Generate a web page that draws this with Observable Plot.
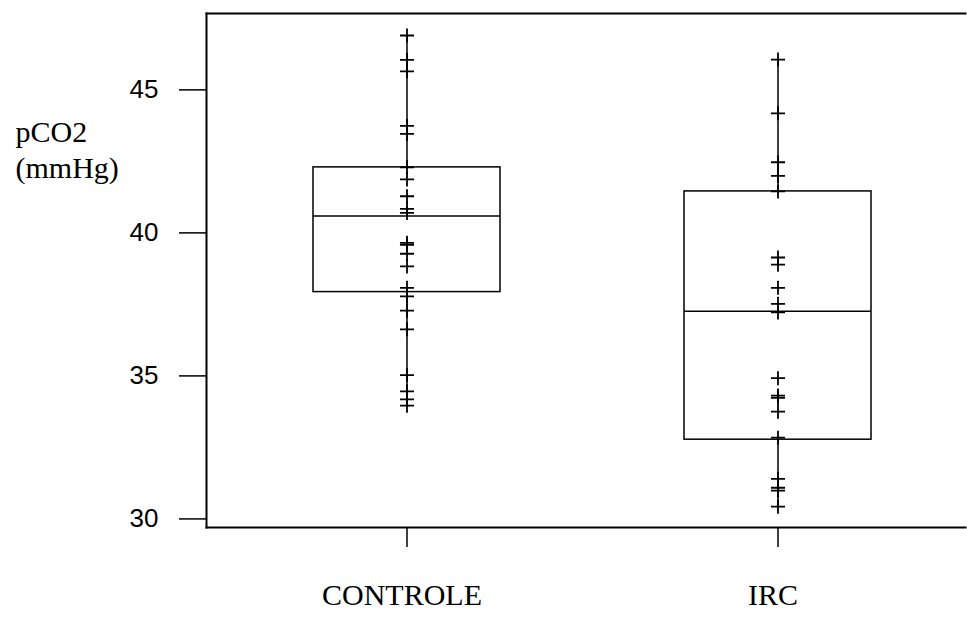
<!DOCTYPE html>
<html>
<head>
<meta charset="utf-8">
<script src="https://cdn.jsdelivr.net/npm/d3@7"></script>
<script src="https://cdn.jsdelivr.net/npm/@observablehq/plot@0.6"></script>
<style>
  html, body { margin: 0; padding: 0; background: #fff; overflow: hidden; }
</style>
</head>
<body>
<div id="chart"></div>
<script>
// Groups and individual pCO2 readings (mmHg)
const groups = ["CONTROLE", "IRC"];
const controleValues = [46.90, 46.05, 45.65, 43.74, 43.46, 42.29, 41.87, 41.28, 40.84, 40.70,
  39.65, 39.58, 39.27, 38.83, 38.08, 37.78, 37.28, 36.63, 35.03, 34.46, 34.18, 33.96];
const ircValues = [46.06, 44.18, 42.47, 41.99, 41.45, 39.14, 38.89, 38.08, 37.52, 37.22,
  34.92, 34.31, 34.23, 33.75, 32.84, 31.40, 31.09, 30.99, 30.43];

// Box statistics per group
const boxQ1 = [37.93, 32.77];
const boxMedian = [40.59, 37.26];
const boxQ3 = [42.29, 41.45];

const yTicks = [30, 35, 40, 45];
const yLabel = "pCO2\n(mmHg)";

const seriesByGroup = [controleValues, ircValues];
const points = groups.flatMap((g, i) => seriesByGroup[i].map(v => ({group: g, value: v})));
const boxes = groups.map((g, i) => ({
  group: g,
  q1: boxQ1[i],
  median: boxMedian[i],
  q3: boxQ3[i],
  min: d3.min(seriesByGroup[i]),
  max: d3.max(seriesByGroup[i])
}));

const serif = "'Liberation Serif', 'Times New Roman', serif";
const sans = "'Liberation Sans', Arial, sans-serif";

const chart = Plot.plot({
  width: 967,
  height: 633,
  marginLeft: 206,
  marginRight: 2,
  marginTop: 13,
  marginBottom: 106,
  style: {background: "#fff", color: "#000"},
  x: {type: "band", domain: groups, range: [126.5, 1057.5], paddingInner: 0.497, paddingOuter: 0.5},
  y: {domain: [29.70, 47.67]},
  marks: [
    Plot.frame({anchor: "left", stroke: "#000", strokeWidth: 2}),
    Plot.frame({anchor: "top", stroke: "#000", strokeWidth: 2}),
    Plot.frame({anchor: "bottom", stroke: "#000", strokeWidth: 2}),
    Plot.axisY(yTicks, {
      tickSize: 27, tickPadding: 21, fontSize: 26, fontFamily: sans,
      label: null, strokeWidth: 1.5
    }),
    // category ticks below the frame
    Plot.axisX({tickSize: 20, tickFormat: () => "", label: null, strokeWidth: 1.5}),
    // category names, set slightly left of their ticks
    Plot.axisX({
      tickSize: 0, tickPadding: 56, dx: -5, fontSize: 30, fontFamily: serif, label: null
    }),
    // whiskers outside the box
    Plot.ruleX(boxes, {x: "group", y1: "q3", y2: "max", stroke: "#000", strokeWidth: 1.5}),
    Plot.ruleX(boxes, {x: "group", y1: "min", y2: "q1", stroke: "#000", strokeWidth: 1.5}),
    // interquartile box and median
    Plot.barY(boxes, {x: "group", y1: "q1", y2: "q3", fill: "none", stroke: "#000", strokeWidth: 1.5}),
    Plot.tickY(boxes, {x: "group", y: "median", stroke: "#000", strokeWidth: 1.5}),
    // individual readings
    Plot.dot(points, {x: "group", y: "value", symbol: "plus", r: 4.6, stroke: "#000", strokeWidth: 1.8}),
    // y axis title
    Plot.text([yLabel], {
      frameAnchor: "top-left", dx: -191, dy: 135,
      textAnchor: "start", lineAnchor: "middle", lineHeight: 1.18,
      fontFamily: serif, fontSize: 30, fill: "#000"
    })
  ]
});

document.getElementById("chart").append(chart);
</script>
</body>
</html>
